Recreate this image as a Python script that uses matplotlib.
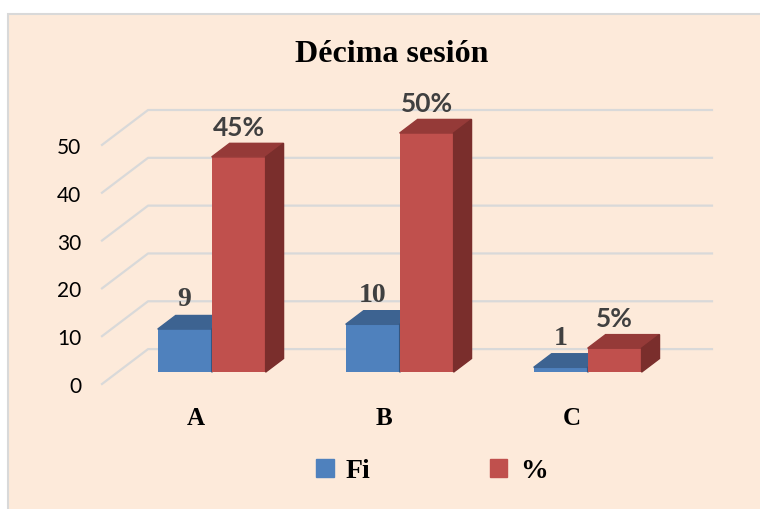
import matplotlib.pyplot as plt
from matplotlib.patches import Polygon, Rectangle, Patch

# datos de la grafica
categorias = ['A', 'B', 'C']
fi = [9, 10, 1]
porcentaje = [45, 50, 5]
etiquetas_pct = ['45%', '50%', '5%']
series = ['Fi', '%']

# colores estilo Excel (frente, arriba, lado)
azul = ['#4F81BD', '#3D6391', '#345680']
rojo = ['#C0504D', '#953A38', '#7A2E2C']
fondo = '#FDEADA'
rejilla = '#D9D9D9'

# profundidad falsa 3D
DX, DY = 0.245, 7.3
d0, d1 = 0.34, 0.73
gap, w = 0.213, 0.287

fig = plt.figure(figsize=(7.6, 5.1), dpi=100)
fig.patch.set_facecolor('white')
fig.patches.append(Rectangle((8 / 760, -0.01), 1.0, 1 - 15 / 510 + 0.01,
                             transform=fig.transFigure, facecolor=fondo,
                             edgecolor=rejilla, linewidth=1.5, zorder=-10))

ax = fig.add_axes([102 / 760, 125 / 510, 610 / 760, 274 / 510])
ax.set_facecolor('none')
ax.set_xlim(0, len(categorias) + DX)
ax.set_ylim(0, 50 + DY)
for s in ax.spines.values():
    s.set_visible(False)

# lineas de la rejilla (pared izquierda + fondo)
for v in range(0, 51, 10):
    ax.plot([0, DX, len(categorias) + DX], [v, v + DY, v + DY],
            color=rejilla, lw=1.6, zorder=1, clip_on=False)

ox, oy = d0 * DX, d0 * DY
bx, by = (d1 - d0) * DX, (d1 - d0) * DY


def barra(x0, v, col):
    ax.bar(x0 + ox, v, width=w, bottom=oy, align='edge', color=col[0],
           zorder=3)
    top = [(x0 + ox, oy + v), (x0 + ox + w, oy + v),
           (x0 + ox + w + bx, oy + v + by), (x0 + ox + bx, oy + v + by)]
    side = [(x0 + ox + w, oy), (x0 + ox + w, oy + v),
            (x0 + ox + w + bx, oy + v + by), (x0 + ox + w + bx, oy + by)]
    ax.add_patch(Polygon(top, closed=True, color=col[1], zorder=3))
    ax.add_patch(Polygon(side, closed=True, color=col[2], zorder=3))


for i in range(len(categorias)):
    xa = i + gap
    xr = i + gap + w
    barra(xa, fi[i], azul)
    barra(xr, porcentaje[i], rojo)
    ax.annotate(str(fi[i]), (xa + ox + w / 2, fi[i] + d1 * DY),
                xytext=(0, 3), textcoords='offset points', ha='center',
                va='bottom', fontsize=20, fontweight='bold',
                family='Liberation Serif', color='#404040', zorder=5)
    ax.annotate(etiquetas_pct[i], (xr + ox + w / 2, porcentaje[i] + d1 * DY),
                xytext=(0, 3), textcoords='offset points', ha='center',
                va='bottom', fontsize=19, fontweight='bold',
                family='Lato', color='#404040', zorder=5)

ax.set_yticks(range(0, 51, 10))
ax.set_yticklabels([str(v) for v in range(0, 51, 10)], family='Lato',
                   fontsize=15, color='#000000')
ax.set_xticks([i + 0.5 for i in range(len(categorias))])
ax.set_xticklabels(categorias, family='Liberation Serif', fontweight='bold',
                   fontsize=18)
ax.tick_params(axis='y', length=0, pad=15)
ax.tick_params(axis='x', length=0, pad=16)

fig.text(392 / 760, 1 - 54 / 510, 'Décima sesión', ha='center', va='center',
         family='Liberation Serif', fontweight='bold', fontsize=23)

handles = [Patch(color=azul[0]), Patch(color=rojo[0])]
fig.legend(handles, series, loc='center', bbox_to_anchor=(432 / 760, 1 - 472 / 510),
           ncol=2, frameon=False, handlelength=0.62, handleheight=0.62,
           handletextpad=0.45, columnspacing=4.3,
           prop={'family': 'Liberation Serif', 'weight': 'bold', 'size': 20})

plt.savefig('out.png', dpi=100, facecolor=fig.get_facecolor())
